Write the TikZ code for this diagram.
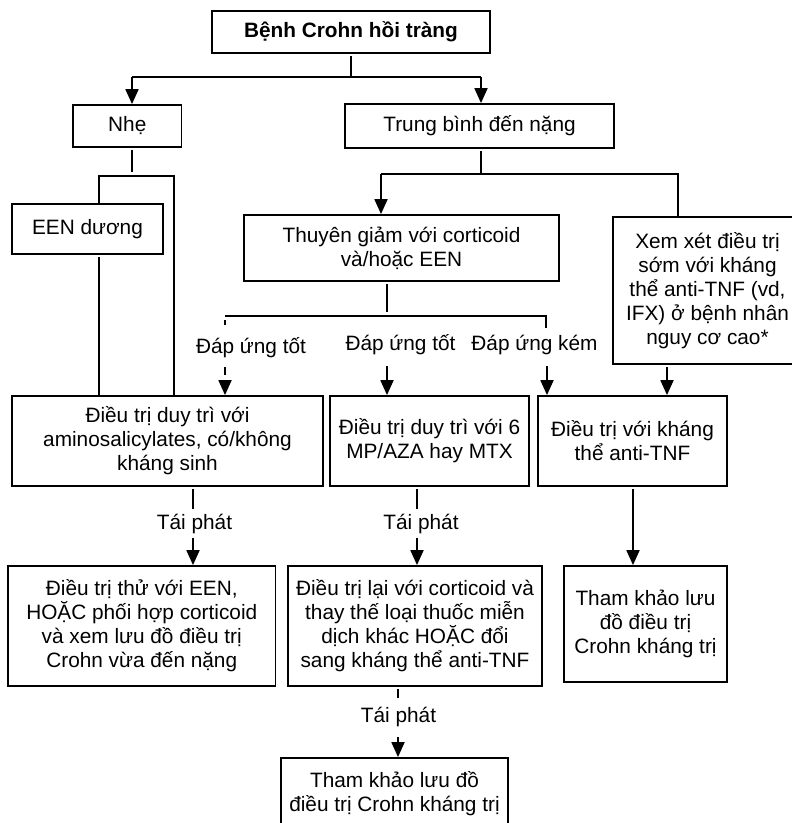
\documentclass[tikz,border=0pt]{standalone}
\usepackage{fontspec}
\setmainfont{Liberation Sans}
\usetikzlibrary{arrows.meta}
\begin{document}
\begin{tikzpicture}[x=1pt,y=-1pt,
  every node/.style={font=\fontsize{20.8pt}{24pt}\selectfont, inner sep=0pt, align=center},
  box/.style={draw, line width=1.8pt},
  link/.style={line width=1.8pt},
  arr/.style={link, -{Triangle[width=13pt,length=15pt]}},
  gap/.style={shorten <=2.5pt},
  faint/.style={dash pattern=on 5pt off 42pt on 8pt off 50pt, dash phase=101pt}
]
\fill[white] (0,0) rectangle (792,823);
\clip (0,0) rectangle (792,823);

% boxes
\node[box, minimum width=278pt, minimum height=42pt,
      font=\fontsize{20.8pt}{24pt}\selectfont\bfseries] (top) at (351,32) {Bệnh Crohn hồi tràng};
\node[box, minimum width=108.5pt, minimum height=42pt] (nhe) at (127.25,126) {Nhẹ};
\node[box, minimum width=269pt, minimum height=44pt] (tb) at (479.5,126) {Trung bình đến nặng};
\node[box, minimum width=151pt, minimum height=50pt] (een) at (87.5,229) {EEN dương};
\node[box, minimum width=315pt, minimum height=66pt] (tg) at (401.5,248) {Thuyên giảm với corticoid\\và/hoặc EEN};
\node[box, minimum width=189pt, minimum height=147pt] (xx) at (707.5,290.5)
  {Xem xét điều trị\\sớm với kháng\\thể anti-TNF (vd,\\IFX) ở bệnh nhân\\nguy cơ cao*};
\node[box, minimum width=311pt, minimum height=90pt] (m1) at (167.5,441)
  {Điều trị duy trì với\\aminosalicylates, có/không\\kháng sinh};
\node[box, minimum width=199pt, minimum height=90pt] (m2) at (429.5,441)
  {Điều trị duy trì với 6\\MP/AZA hay MTX};
\node[box, minimum width=189pt, minimum height=90pt] (m3) at (632.5,441)
  {Điều trị với kháng\\thể anti-TNF};
\node[box, minimum width=267.5pt, minimum height=120pt] (r1) at (141.75,626)
  {Điều trị thử với EEN,\\HOẶC phối hợp corticoid\\và xem lưu đồ điều trị\\Crohn vừa đến nặng};
\node[box, minimum width=254pt, minimum height=120pt] (r2) at (415,626)
  {Điều trị lại với corticoid và\\thay thế loại thuốc miễn\\dịch khác HOẶC đổi\\sang kháng thể anti-TNF};
\node[box, minimum width=163pt, minimum height=116pt] (r3) at (645.5,624)
  {Tham khảo lưu\\đồ điều trị\\Crohn kháng trị};
\node[box, minimum width=227pt, minimum height=71pt] (bb) at (394.5,793.5)
  {Tham khảo lưu đồ\\điều trị Crohn kháng trị};

% title split
\coordinate (t0) at (351,77);
\coordinate (tL) at (132,77);
\coordinate (tR) at (481,77);
\draw[link,gap] (top.south) -- (t0);
\draw[link] (tL) -- (tR);
\draw[arr] (tL) -- (tL |- nhe.north);
\draw[arr] (tR) -- (tR |- tb.north);

% mild branch
\coordinate (n0) at (132,172);
\coordinate (bL) at (99,176);
\coordinate (bR) at (174,176);
\draw[link,gap] (n0 |- nhe.south) -- (n0);
\draw[link] (bL |- een.north) -- (bL) -- (bR) -- (bR |- m1.north);
\draw[link,gap] (bL |- een.south) -- (bL |- m1.north);

% moderate to severe branch
\coordinate (s0) at (481,174);
\coordinate (sL) at (381,174);
\coordinate (sR) at (678,174);
\draw[link,gap] (s0 |- tb.south) -- (s0);
\draw[link] (sL) -- (sR) -- (sR |- xx.north);
\draw[arr] (sL) -- (sL |- tg.north);

% response split
\coordinate (g0) at (387,312);
\coordinate (hL) at (225,316);
\coordinate (hR) at (546,316);
\coordinate (hR1) at (546,328);
\draw[link,gap] (g0 |- tg.south) -- (g0);
\draw[link] (hL) -- (hR) -- (hR1);
\draw[arr,faint] (hL) -- (hL |- m1.north);
\node (ok1) at (251,348) {Đáp ứng tốt};
\node (ok2) at (400.5,345) {Đáp ứng tốt};
\node (bad) at (534.5,345) {Đáp ứng kém};
\coordinate (a2) at (387,366);
\coordinate (a3) at (547,366);
\coordinate (a4) at (667,366);
\draw[arr] (a2) -- (a2 |- m2.north);
\draw[arr] (a3) -- (a3 |- m3.north);
\draw[arr,gap] (a4 |- xx.south) -- (a4 |- m3.north);

% relapse steps
\coordinate (u1) at (193,509);
\coordinate (v1) at (193,538);
\draw[link,gap] (u1 |- m1.south) -- (u1);
\node (re1) at (194.5,524) {Tái phát};
\draw[arr] (v1) -- (v1 |- r1.north);

\coordinate (u2) at (417,509);
\coordinate (v2) at (417,538);
\draw[link,gap] (u2 |- m2.south) -- (u2);
\node (re2) at (421,524) {Tái phát};
\draw[arr] (v2) -- (v2 |- r2.north);

\coordinate (w3) at (633,490);
\draw[arr,gap] (w3 |- m3.south) -- (w3 |- r3.north);

\coordinate (u3) at (398,698);
\coordinate (v3) at (398,737);
\draw[link,gap] (u3 |- r2.south) -- (u3);
\node (re3) at (398.5,717) {Tái phát};
\draw[arr] (v3) -- (v3 |- bb.north);
\end{tikzpicture}
\end{document}
